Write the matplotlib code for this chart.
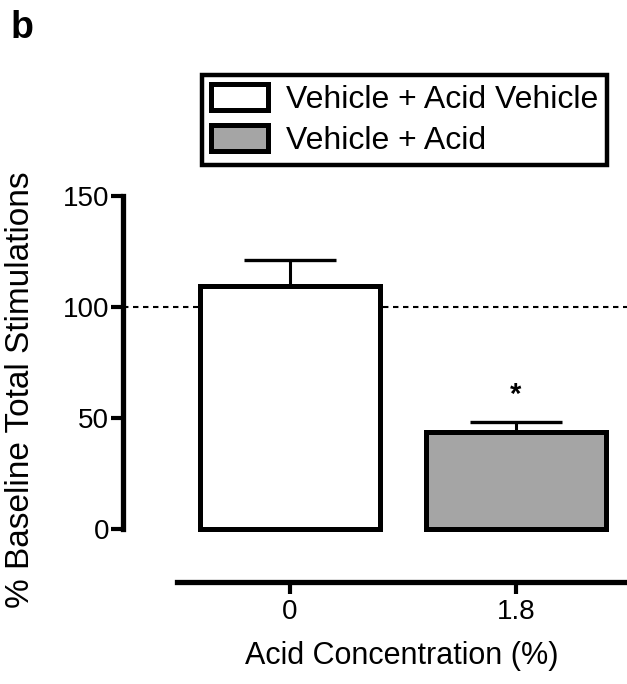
import matplotlib
matplotlib.use("Agg")
import matplotlib.pyplot as plt
from matplotlib.patches import Patch

plt.rcParams['font.family'] = ['Liberation Sans', 'DejaVu Sans']

categories = ["0", "1.8"]
means = [109.5, 43.8]
sem = [11.5, 4.5]
series_labels = ["Vehicle + Acid Vehicle", "Vehicle + Acid"]
colors = ["#ffffff", "#a5a5a5"]
yticks = [0, 50, 100, 150]
baseline = 100
sig_marks = ["", "*"]

W, H = 627, 684
fig = plt.figure(figsize=(W / 100, H / 100), dpi=100)
left_px, right_px, top_px, bot_px = 123, 627, 196, 529
ax = fig.add_axes([left_px / W, 1 - bot_px / H, (right_px - left_px) / W, (bot_px - top_px) / H])

x = list(range(len(categories)))
ax.axhline(baseline, color="black", lw=1.5, ls=(0, (2.6, 2.2)), zorder=1)
ax.bar(x, means, width=0.8, color=colors, edgecolor="black", linewidth=3.6,
       zorder=3, clip_on=False)
ax.errorbar(x, means, yerr=[[0] * len(x), sem], fmt="none", ecolor="black",
            elinewidth=2.2, capsize=33, capthick=2.4, zorder=2)
for xi, m, s, mark in zip(x, means, sem, sig_marks):
    if mark:
        ax.text(xi, m + s + 12, mark, ha="center", va="center", fontsize=21, fontweight="bold")

ax.set_xlim(-0.739, 1.491)
ax.set_ylim(0, 150)
ax.set_yticks(yticks)
ax.set_xticks(x)
ax.set_xticklabels(categories)

for s in ["top", "right"]:
    ax.spines[s].set_visible(False)
ax.spines["left"].set_linewidth(3.8)
ax.spines["left"].set_bounds(0, 150)
ax.spines["bottom"].set_linewidth(3.8)
ax.spines["bottom"].set_position(("outward", 38))
ax.spines["bottom"].set_bounds(-0.5, 1.491)
ax.tick_params(axis="y", length=8.5, width=3, pad=1.5, labelsize=20)
ax.tick_params(axis="x", length=8.5, width=3, pad=4.0, labelsize=20)

fig.text(21 / W, 1 - 390 / H, "% Baseline Total Stimulations", rotation=90,
         ha="center", va="center", fontsize=24)
fig.text(402 / W, 1 - 656 / H, "Acid Concentration (%)", ha="center", va="center", fontsize=22)
fig.text(11 / W, 1 - 28 / H, "b", ha="left", va="center", fontsize=27, fontweight="bold")

handles = [Patch(facecolor=c, edgecolor="black", linewidth=3.6) for c in colors]
leg = fig.legend(handles, series_labels, loc="upper left", bbox_to_anchor=(202 / W, 1 - 75 / H),
                 borderaxespad=0, fontsize=23, frameon=True, fancybox=False, framealpha=1,
                 handlelength=1.8, handleheight=0.9, handletextpad=0.55,
                 labelspacing=0.3, borderpad=0.28)
leg.get_frame().set_edgecolor("black")
leg.get_frame().set_linewidth(3.2)

fig.savefig("out.png", dpi=100)
